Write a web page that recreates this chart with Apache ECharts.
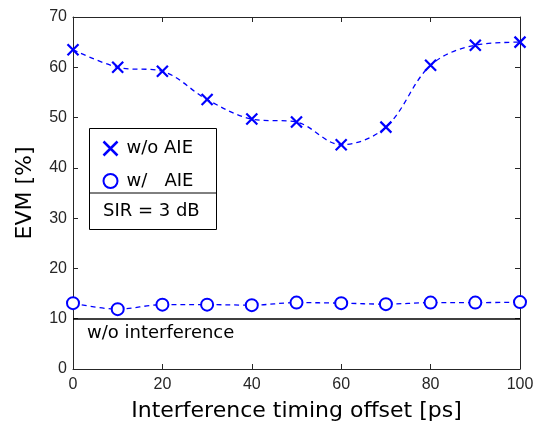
<!DOCTYPE html>
<html>
<head>
<meta charset="utf-8">
<script src="https://cdn.jsdelivr.net/npm/echarts@6/dist/echarts.min.js"></script>
<style>
  html, body { margin: 0; padding: 0; background: #fff; }
  #chart { width: 535px; height: 424px; }
</style>
</head>
<body>
<div id="chart"></div>
<script>
// Interference timing offset [ps]
const offsets = [0, 10, 20, 30, 40, 50, 60, 70, 80, 90, 100];
// EVM [%] without AIE
const evmWithoutAIE = [63.5, 60.0, 59.2, 53.6, 49.7, 49.1, 44.6, 48.1, 60.4, 64.4, 65.0];
// EVM [%] with AIE
const evmWithAIE = [13.1, 11.9, 12.8, 12.8, 12.7, 13.2, 13.1, 12.9, 13.2, 13.2, 13.3];
// EVM floor without interference
const evmNoInterference = 10;

const TEXT_FONT = 'DejaVu Sans';
const TICK_FONT = 'Liberation Sans';
const BLUE = '#0000ff';
const AXIS = '#262626';
const crossSymbol = 'path://M0,0L10,10M10,0L0,10';

const chart = echarts.init(document.getElementById('chart'));

const axisBase = {
  axisLine: { show: true, onZero: false, lineStyle: { color: AXIS, width: 1 } },
  axisTick: { show: true, inside: true, length: 5, lineStyle: { color: AXIS } },
  splitLine: { show: false }
};

chart.setOption({
  animation: false,
  textStyle: { fontFamily: TEXT_FONT },
  grid: { left: 73, right: 15, top: 17, bottom: 55, containLabel: false, outerBoundsMode: 'none' },
  xAxis: [
    Object.assign({}, axisBase, {
      type: 'value', min: 0, max: 100, interval: 20, position: 'bottom',
      name: 'Interference timing offset [ps]', nameLocation: 'middle', nameGap: 31,
      nameTextStyle: { fontSize: 22, color: '#000', fontFamily: TEXT_FONT },
      axisLabel: { fontSize: 16, color: AXIS, margin: 8, fontFamily: TICK_FONT }
    }),
    Object.assign({}, axisBase, {
      type: 'value', min: 0, max: 100, interval: 20, position: 'top',
      axisLabel: { show: false }
    })
  ],
  yAxis: [
    Object.assign({}, axisBase, {
      type: 'value', min: 0, max: 70, interval: 10, position: 'left',
      name: 'EVM [%]', nameLocation: 'middle', nameGap: 37,
      nameTextStyle: { fontSize: 22, color: '#000', fontFamily: TEXT_FONT },
      axisLabel: { fontSize: 16, color: AXIS, margin: 6, fontFamily: TICK_FONT }
    }),
    Object.assign({}, axisBase, {
      type: 'value', min: 0, max: 70, interval: 10, position: 'right',
      axisLabel: { show: false }
    })
  ],
  legend: {
    orient: 'vertical', left: 101, top: 139, itemGap: 14, z: 4,
    itemWidth: 14, itemHeight: 14, padding: 0,
    textStyle: { fontSize: 18, lineHeight: 16, color: '#000', fontFamily: TEXT_FONT, padding: [0, 0, 0, 4] },
    data: [
      { name: 'w/o AIE', icon: crossSymbol, itemStyle: { color: 'none', borderColor: BLUE, borderWidth: 2.5 } },
      { name: 'w/   AIE', icon: 'circle', itemStyle: { color: '#fff', borderColor: BLUE, borderWidth: 2 } }
    ]
  },
  graphic: [
    { type: 'rect', left: 89, top: 128, z: 3,
      shape: { width: 127, height: 101 },
      style: { fill: '#fff', stroke: '#000', lineWidth: 1 } },
    { type: 'line', z: 3,
      shape: { x1: 89, y1: 193, x2: 216, y2: 193 },
      style: { stroke: '#000', lineWidth: 1 } },
    { type: 'text', left: 103, top: 202, z: 3,
      style: { text: 'SIR = 3 dB', fontSize: 18, fill: '#000', fontFamily: TEXT_FONT } }
  ],
  series: [
    {
      name: 'w/o AIE', type: 'line', smooth: 0.35,
      data: offsets.map((x, i) => [x, evmWithoutAIE[i]]),
      symbol: crossSymbol, symbolSize: 11,
      lineStyle: { color: BLUE, width: 1.3, type: [5, 4] },
      itemStyle: { color: 'none', borderColor: BLUE, borderWidth: 2.2 }
    },
    {
      name: 'w/   AIE', type: 'line', smooth: 0.35,
      data: offsets.map((x, i) => [x, evmWithAIE[i]]),
      symbol: 'circle', symbolSize: 12,
      lineStyle: { color: BLUE, width: 1.3, type: [5, 4] },
      itemStyle: { color: '#fff', borderColor: BLUE, borderWidth: 2 },
      markLine: {
        silent: true, symbol: 'none',
        lineStyle: { color: '#000', width: 1.5, type: 'solid' },
        label: {
          show: true, position: 'insideStartBottom', distance: [14, 6],
          formatter: 'w/o interference', fontSize: 18, color: '#000', fontFamily: TEXT_FONT
        },
        data: [{ yAxis: evmNoInterference }]
      }
    }
  ]
});
</script>
</body>
</html>
